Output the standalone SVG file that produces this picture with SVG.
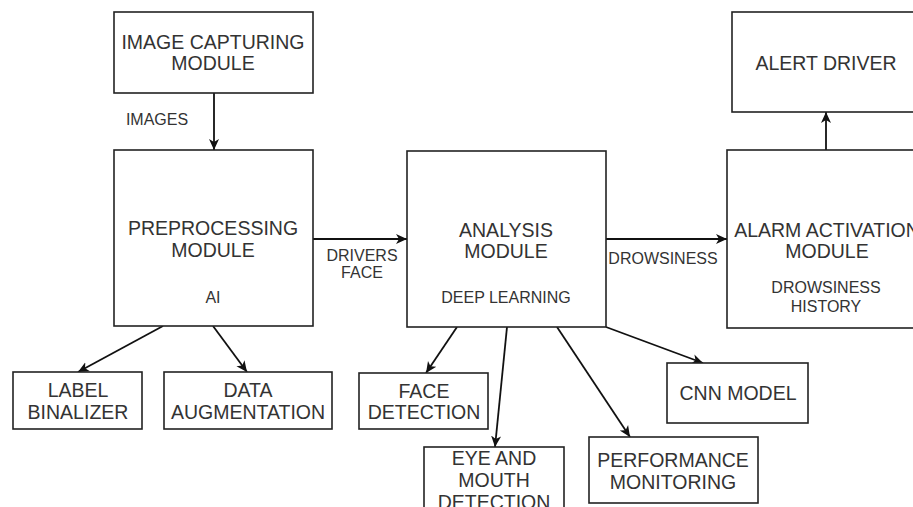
<svg xmlns="http://www.w3.org/2000/svg" width="913" height="507" viewBox="0 0 913 507">
<style>
.box{fill:#fff;stroke:#222;stroke-width:1.6}
.big{font-family:"Liberation Sans",Arial,sans-serif;font-size:19.5px;fill:#333;text-anchor:middle}
.sm{font-family:"Liberation Sans",Arial,sans-serif;font-size:16px;fill:#333;text-anchor:middle}
.edge{stroke:#111;stroke-width:1.8;fill:none;marker-end:url(#arr)}
</style>
<defs>
<marker id="arr" markerUnits="userSpaceOnUse" markerWidth="12" markerHeight="12" refX="11" refY="5" orient="auto" viewBox="0 0 12 10">
<path d="M0,0 L11,5 L0,10 L3,5 z" fill="#111"/>
</marker>
</defs>
<rect width="913" height="507" fill="#fff"/>
<g id="connectors">
<line class="edge" x1="214" y1="93" x2="214" y2="150"/>
<line class="edge" x1="313" y1="239" x2="407" y2="239"/>
<line class="edge" x1="606" y1="239" x2="727" y2="239"/>
<line class="edge" x1="826" y1="150" x2="826" y2="112"/>
<line class="edge" x1="163" y1="326" x2="78" y2="372"/>
<line class="edge" x1="213" y1="326" x2="247" y2="372"/>
<line class="edge" x1="457" y1="327" x2="426" y2="373"/>
<line class="edge" x1="507" y1="327" x2="495" y2="447"/>
<line class="edge" x1="557" y1="327" x2="630" y2="437"/>
<line class="edge" x1="606" y1="327" x2="703" y2="363"/>
<text class="sm" x="157" y="125">IMAGES</text>
<text class="sm" x="362" y="261">DRIVERS</text>
<text class="sm" x="362" y="278">FACE</text>
<text class="sm" x="663" y="264">DROWSINESS</text>
</g>
<g id="image-capturing">
<rect class="box" x="114" y="12" width="199" height="81"/>
<text class="big" x="213" y="49">IMAGE CAPTURING</text>
<text class="big" x="213" y="70">MODULE</text>
</g>
<g id="preprocessing">
<rect class="box" x="114" y="150" width="199" height="176"/>
<text class="big" x="213" y="235">PREPROCESSING</text>
<text class="big" x="213" y="257">MODULE</text>
<text class="sm" x="213" y="303">AI</text>
</g>
<g id="analysis">
<rect class="box" x="407" y="151" width="199" height="176"/>
<text class="big" x="506" y="237">ANALYSIS</text>
<text class="big" x="506" y="258">MODULE</text>
<text class="sm" x="506" y="303">DEEP LEARNING</text>
</g>
<g id="alarm">
<rect class="box" x="727" y="150" width="200" height="178"/>
<text class="big" x="827" y="237">ALARM ACTIVATION</text>
<text class="big" x="827" y="258">MODULE</text>
<text class="sm" x="826" y="293">DROWSINESS</text>
<text class="sm" x="826" y="312">HISTORY</text>
</g>
<g id="alert-driver">
<rect class="box" x="732" y="12" width="190" height="100"/>
<text class="big" x="826" y="70">ALERT DRIVER</text>
</g>
<g id="label-binalizer">
<rect class="box" x="13" y="372" width="129" height="57"/>
<text class="big" x="78" y="397">LABEL</text>
<text class="big" x="78" y="419">BINALIZER</text>
</g>
<g id="data-augmentation">
<rect class="box" x="164" y="372" width="168" height="57"/>
<text class="big" x="248" y="397">DATA</text>
<text class="big" x="248" y="419">AUGMENTATION</text>
</g>
<g id="face-detection">
<rect class="box" x="359" y="373" width="129" height="56"/>
<text class="big" x="424" y="398">FACE</text>
<text class="big" x="424" y="419">DETECTION</text>
</g>
<g id="eye-mouth">
<rect class="box" x="424" y="447" width="140" height="80"/>
<text class="big" x="494" y="465">EYE AND</text>
<text class="big" x="494" y="487">MOUTH</text>
<text class="big" x="494" y="509">DETECTION</text>
</g>
<g id="performance">
<rect class="box" x="589" y="437" width="169" height="66"/>
<text class="big" x="673" y="467">PERFORMANCE</text>
<text class="big" x="673" y="489">MONITORING</text>
</g>
<g id="cnn-model">
<rect class="box" x="667" y="363" width="141" height="60"/>
<text class="big" x="738" y="400">CNN MODEL</text>
</g>
</svg>
